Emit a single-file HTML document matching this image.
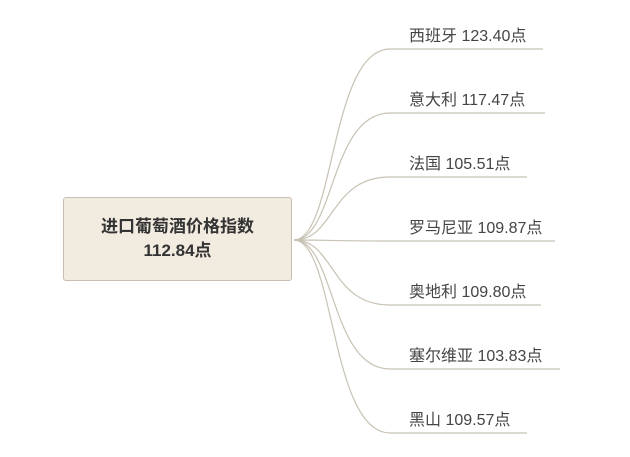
<!DOCTYPE html>
<html><head><meta charset="utf-8"><style>
html,body{margin:0;padding:0;background:#fff;}
body{width:630px;height:457px;position:relative;overflow:hidden;font-family:"Liberation Sans","Noto Sans CJK SC",sans-serif;}
.box{position:absolute;left:63px;top:197px;width:229px;height:84px;background:#f2ebe0;border:1px solid #c9bfb1;border-radius:3px;box-sizing:border-box;display:flex;align-items:center;justify-content:center;text-align:center;font-size:17px;line-height:24px;color:#333;font-weight:bold;}
.t{position:absolute;left:409px;font-size:16px;color:#444;white-space:nowrap;}
</style></head><body>
<svg width="630" height="457" style="position:absolute;left:0;top:0" fill="none" stroke="#c8c2b4" stroke-width="1.2">
<path d="M294 240 C335 240 330 49 390 49 L543 49"/>
<path d="M294 240 C335 240 330 113 390 113 L545 113"/>
<path d="M294 240 C335 240 330 177 390 177 L527 177"/>
<path d="M294 240 C335 240 330 241 390 241 L555 241"/>
<path d="M294 240 C335 240 330 305 390 305 L541 305"/>
<path d="M294 240 C335 240 330 369 390 369 L560 369"/>
<path d="M294 240 C335 240 330 433 390 433 L527 433"/>
</svg>
<div class="box">进口葡萄酒价格指数<br>112.84点</div>
<div class="t" style="top:22px">西班牙 123.40点</div>
<div class="t" style="top:86px">意大利 117.47点</div>
<div class="t" style="top:150px">法国 105.51点</div>
<div class="t" style="top:214px">罗马尼亚 109.87点</div>
<div class="t" style="top:278px">奥地利 109.80点</div>
<div class="t" style="top:342px">塞尔维亚 103.83点</div>
<div class="t" style="top:406px">黑山 109.57点</div>
</body></html>
